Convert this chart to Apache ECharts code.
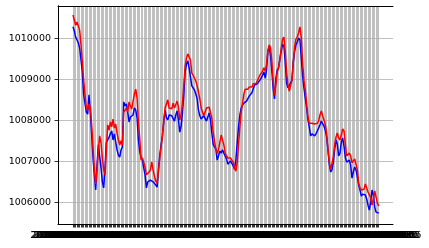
<!DOCTYPE html>
<html><head><meta charset="utf-8">
<script src="https://cdn.jsdelivr.net/npm/echarts@6/dist/echarts.min.js"></script>
<style>html,body{margin:0;padding:0;background:#fff}#c{width:429px;height:248px}</style>
</head><body><div id="c"></div>
<script>
const blueValues = [
1010280,1010180,1010030,1009960,1009890,1009760,1009470,1009180,1008620,1008620,
1008200,1008150,1008620,1008200,1007640,1007080,1006670,1006300,1006910,1007400,
1007370,1006840,1006500,1006350,1006840,1007470,1007520,1007590,1007670,1007740,
1007520,1007670,1007470,1007280,1007150,1007100,1007280,1007350,1008450,1008350,
1008400,1008200,1007960,1008080,1008080,1008130,1008300,1008250,1008060,1007520,
1007230,1007100,1007030,1006840,1006670,1006350,1006500,1006540,1006540,1006500,
1006500,1006470,1006420,1006370,1006790,1007150,1007400,1007620,1007960,1008250,
1008060,1008010,1008130,1008150,1008110,1008150,1007980,1008130,1008230,1008010,
1007710,1007860,1008180,1008620,1009180,1009370,1009450,1009280,1009060,1008840,
1008810,1008740,1008640,1008520,1008250,1008110,1008030,1008060,1008110,1008130,
1007980,1008080,1008180,1008010,1007690,1007420,1007350,1007300,1007030,1007130,
1007250,1007200,1007280,1007200,1007130,1007060,1006930,1006890,1007010,1006980,
1006890,1006810,1007030,1007450,1007840,1008130,1008300,1008370,1008420,1008450,
1008470,1008500,1008590,1008590,1008670,1008710,1008860,1008840,1008890,1008930,
1008980,1009030,1009100,1009180,1009030,1009230,1009690,1009790,1009570,1009180,
1008760,1008520,1009030,1009230,1009280,1009500,1009690,1009860,1009810,1009420,
1008910,1008790,1008840,1008810,1008980,1009420,1009670,1009840,1009910,1010010,
1009960,1009520,1009080,1008790,1008540,1008300,1008010,1007840,1007620,1007670,
1007690,1007620,1007670,1007740,1007810,1007890,1007980,1007960,1007860,1007760,
1007590,1007280,1006930,1006740,1006790,1006980,1007280,1007520,1007420,1007130,
1007200,1007470,1007570,1007370,1007100,1006980,1007010,1007030,1006910,1006590,
1006740,1006860,1006790,1006620,1006420,1006300,1006150,1006200,1006230,1006180,
1006080,1005930,1005810,1006010,1006300,1006180,1005890,1005760,1005740,1005740
];
const redValues = [
1010570,1010540,1010320,1010400,1010400,1010200,1009840,1009420,1008980,1008620,
1008300,1008250,1008400,1008300,1007890,1007320,1006790,1006450,1006790,1007280,
1007620,1007450,1007080,1006790,1006670,1007320,1007890,1007760,1007960,1007840,
1008030,1007810,1007910,1007690,1007520,1007400,1007500,1007400,1008200,1008200,
1008300,1008200,1008450,1008350,1008280,1008470,1008640,1008760,1008540,1007960,
1007570,1007030,1007080,1007100,1006860,1006670,1006710,1006740,1006790,1006980,
1006790,1006640,1006520,1006470,1006740,1007080,1007350,1007620,1008010,1008300,
1008400,1008500,1008300,1008300,1008280,1008420,1008300,1008300,1008470,1008320,
1008010,1008130,1008420,1008860,1009320,1009520,1009620,1009640,1009470,1009150,
1009100,1009060,1008960,1008840,1008690,1008520,1008300,1008200,1008110,1008200,
1008300,1008300,1008320,1008350,1008060,1007710,1007500,1007300,1007200,1007280,
1007470,1007640,1007620,1007400,1007200,1007130,1007080,1007080,1007080,1007030,
1006980,1006840,1006760,1006960,1007400,1007840,1008200,1008420,1008640,1008760,
1008740,1008760,1008810,1008790,1008810,1008890,1008930,1008890,1008960,1009030,
1009100,1009130,1009200,1009280,1009200,1009370,1009710,1009840,1009760,1009420,
1008930,1008620,1008890,1009180,1009280,1009500,1009760,1009980,1010030,1009670,
1009180,1008860,1008710,1008710,1008980,1009400,1009790,1009980,1010030,1010130,
1010280,1010010,1009420,1008980,1008740,1008420,1008080,1007930,1007930,1007930,
1007910,1007910,1007890,1007930,1007980,1008130,1008230,1008110,1008010,1007890,
1007690,1007280,1006980,1006790,1006810,1007100,1007400,1007590,1007690,1007570,
1007520,1007640,1007790,1007740,1007420,1007130,1007150,1007200,1007130,1006960,
1006980,1007060,1007030,1006790,1006470,1006350,1006300,1006300,1006320,1006450,
1006350,1006250,1006230,1006110,1005930,1006080,1006280,1006250,1005980,1005910
];
const yTickValues = [1006000, 1007000, 1008000, 1009000, 1010000];
const categories = (function () {
  const out = [];
  const start = Date.UTC(2021, 0, 4, 0, 0);
  for (let i = 0; i < redValues.length; i++) {
    const d = new Date(start + i * 15 * 60000);
    out.push(d.toISOString().slice(0, 16).replace('T', ' '));
  }
  return out;
})();
const yMin = 1005471, yMax = 1010788;

const chart = echarts.init(document.getElementById('c'), null, {renderer: 'canvas'});
const font = 'DejaVu Sans';
const spine = {show: true, lineStyle: {color: '#000', width: 1}};
chart.setOption({
  animation: false,
  backgroundColor: '#fff',
  grid: [
    {left: 58, right: 36, top: 6, bottom: 24, show: false},
    {left: 73, right: 50.3, top: 6, bottom: 24, show: false}
  ],
  xAxis: [
    {type: 'value', gridIndex: 0, min: 0, max: 1, position: 'bottom', z: 6,
     axisLine: spine, axisTick: {show: false}, axisLabel: {show: false}, splitLine: {show: false}},
    {type: 'category', gridIndex: 1, data: categories, boundaryGap: false, z: 1,
     axisLine: {show: false},
     axisTick: {show: true, interval: 0, length: 3.5, lineStyle: {color: '#000', width: 0.8}},
     axisLabel: {show: true, interval: 0, fontFamily: font, fontSize: 9.5, color: '#000', margin: 7},
     splitLine: {show: true, interval: 0, lineStyle: {color: '#b0b0b0', width: 0.8}}},
    {type: 'value', gridIndex: 0, min: 0, max: 1, position: 'top', z: 6,
     axisLine: spine, axisTick: {show: false}, axisLabel: {show: false}, splitLine: {show: false}}
  ],
  yAxis: [
    {type: 'value', gridIndex: 0, min: yMin, max: yMax, position: 'left', z: 3,
     axisLine: spine,
     axisTick: {show: true, length: 3.5, customValues: yTickValues, lineStyle: {color: '#000', width: 0.8}},
     axisLabel: {show: true, customValues: yTickValues, fontFamily: font, fontSize: 9.5, color: '#000', margin: 7,
                 formatter: function (v) { return String(Math.round(v)); }},
     splitLine: {show: true, lineStyle: {color: '#b0b0b0', width: 0.8}}},
    {type: 'value', gridIndex: 1, min: yMin, max: yMax, show: false, splitLine: {show: false}},
    {type: 'value', gridIndex: 0, min: yMin, max: yMax, position: 'right', z: 6,
     axisLine: spine, axisTick: {show: false}, axisLabel: {show: false}, splitLine: {show: false}}
  ],
  series: [
    {name: 'blue', type: 'line', xAxisIndex: 1, yAxisIndex: 1, data: blueValues, showSymbol: false,
     lineStyle: {color: '#0000ff', width: 1.5}, itemStyle: {color: '#0000ff'}, z: 4},
    {name: 'red', type: 'line', xAxisIndex: 1, yAxisIndex: 1, data: redValues, showSymbol: false,
     lineStyle: {color: '#ff0000', width: 1.5}, itemStyle: {color: '#ff0000'}, z: 5}
  ]
});
</script>
</body></html>
